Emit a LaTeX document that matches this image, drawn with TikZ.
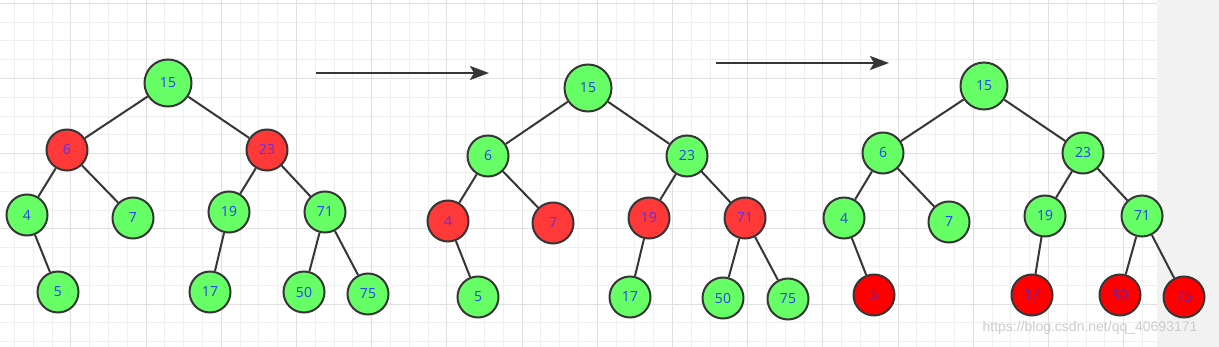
\documentclass[tikz,border=0pt]{standalone}
\usepackage{fontspec}
\setmainfont{Noto Sans}
\newfontfamily\wmfont{Liberation Sans}
\usetikzlibrary{arrows.meta}

\definecolor{ballgreen}{HTML}{66FF66}
\definecolor{ballred}{HTML}{FF3838}
\definecolor{ballhot}{HTML}{FF0000}
\definecolor{ballline}{HTML}{363636}
\definecolor{numblue}{HTML}{2A4FE6}
\definecolor{numpurple}{HTML}{6A32D8}
\definecolor{numdark}{HTML}{6A22A8}
\definecolor{gridminor}{HTML}{EFEFEF}
\definecolor{gridmajor}{HTML}{E0E0E0}
\definecolor{stripgray}{HTML}{F2F2F2}

\tikzset{
  ball/.style={circle,draw=ballline,line width=2pt,minimum size=41pt,inner sep=0pt,
    text=numblue,font=\fontsize{14}{14}\selectfont},
  grn/.style={ball,fill=ballgreen},
  rd/.style={ball,fill=ballred,text=numpurple},
  hot/.style={ball,fill=ballhot,text=numdark},
  top/.style={minimum size=47pt},
  edge/.style={line width=2pt,draw=ballline},
  flow/.style={line width=2pt,draw=ballline,-{Stealth[length=19pt,width=14pt,inset=4pt]}},
}

\begin{document}
\begin{tikzpicture}[x=1pt,y=-1pt]
  \useasboundingbox (0,0) rectangle (1219,347);
  \fill[white] (0,0) rectangle (1157,347);
  \fill[stripgray] (1157,0) rectangle (1219,347);
  % grid paper
  \foreach \i in {0,...,60}
    \draw[gridminor,line width=1pt] ({14.4+18.8*\i},0) -- ({14.4+18.8*\i},347);
  \foreach \j in {0,...,18}
    \draw[gridminor,line width=1pt] (0,{3.4+18.8*\j}) -- (1157,{3.4+18.8*\j});
  \foreach \i in {3,7,...,59}
    \draw[gridmajor,line width=1pt] ({14.4+18.8*\i},0) -- ({14.4+18.8*\i},347);
  \foreach \j in {0,4,...,16}
    \draw[gridmajor,line width=1pt] (0,{3.4+18.8*\j}) -- (1157,{3.4+18.8*\j});

  % first tree
  \node[grn,top] (a15) at (168,83) {15};
  \node[rd]  (a6)  at (67,150)  {6};
  \node[rd]  (a23) at (267,150) {23};
  \node[grn] (a4)  at (27,215)  {4};
  \node[grn] (a7)  at (133,218) {7};
  \node[grn] (a19) at (229,212) {19};
  \node[grn] (a71) at (325,212) {71};
  \node[grn] (a5)  at (58,292)  {5};
  \node[grn] (a17) at (210,292) {17};
  \node[grn] (a50) at (304,292) {50};
  \node[grn] (a75) at (368,294) {75};

  % second tree
  \node[grn,top] (b15) at (588,88) {15};
  \node[grn] (b6)  at (488,156) {6};
  \node[grn] (b23) at (687,156) {23};
  \node[rd]  (b4)  at (448,221) {4};
  \node[rd]  (b7)  at (553,223) {7};
  \node[rd]  (b19) at (649,218) {19};
  \node[rd]  (b71) at (745,218) {71};
  \node[grn] (b5)  at (478,297) {5};
  \node[grn] (b17) at (630,297) {17};
  \node[grn] (b50) at (723,298) {50};
  \node[grn] (b75) at (788,299) {75};

  % third tree
  \node[grn,top] (c15) at (984,86) {15};
  \node[grn] (c6)  at (883,153)  {6};
  \node[grn] (c23) at (1083,153) {23};
  \node[grn] (c4)  at (844,218)  {4};
  \node[grn] (c7)  at (949,222)  {7};
  \node[grn] (c19) at (1045,216) {19};
  \node[grn] (c71) at (1142,216) {71};
  \node[hot] (c5)  at (874,295)  {5};
  \node[hot] (c17) at (1032,295) {17};
  \node[hot] (c50) at (1120,295) {50};
  \node[hot] (c75) at (1184,297) {75};

  \foreach \t in {a,b,c}
    \foreach \p/\c in {15/6,15/23,6/4,6/7,4/5,23/19,23/71,19/17,71/50,71/75}
      \draw[edge] (\t\p) -- (\t\c);

  % steps
  \coordinate (s1) at (316,73);
  \coordinate (e1) at (489,73);
  \coordinate (s2) at (716,63);
  \coordinate (e2) at (889,63);
  \draw[flow] (s1) -- (e1);
  \draw[flow] (s2) -- (e2);

  \node[text=gray!40,font=\wmfont\fontsize{14}{14}\selectfont] (wm) at (1090,328)
    {https://blog.csdn.net/qq\_40693171};
\end{tikzpicture}
\end{document}
